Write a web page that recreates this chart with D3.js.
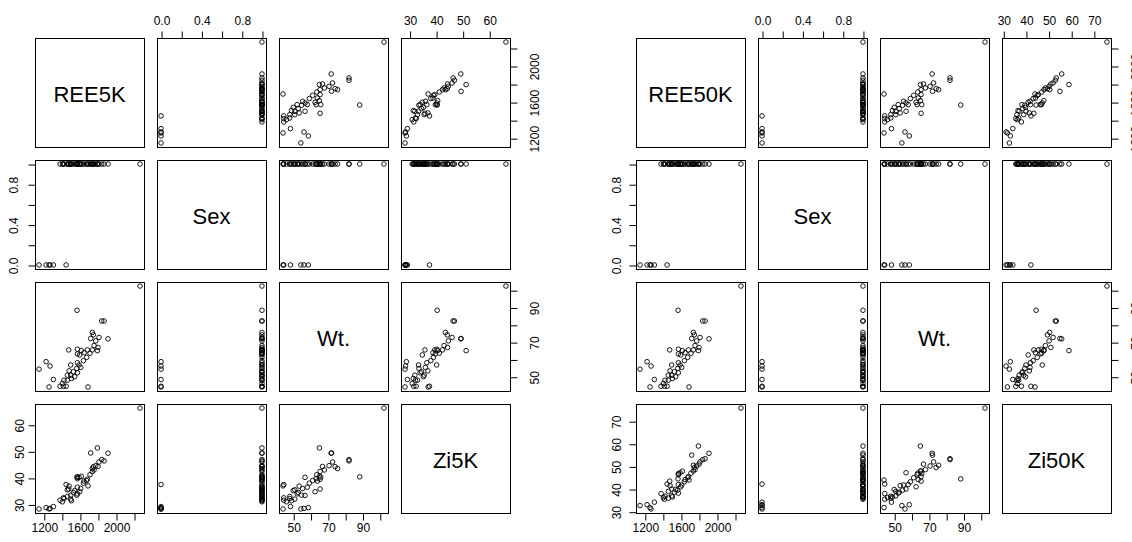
<!DOCTYPE html>
<html>
<head>
<meta charset="utf-8">
<script src="https://cdn.jsdelivr.net/npm/d3@7"></script>
<style>
  body { margin: 0; background: #fff; }
  svg { display: block; }
</style>
</head>
<body>
<svg width="1132" height="542"></svg>
<script>
// observations (one entry per subject)
var ree   = [2266,1568,1842,1868,1738,1749,1720,1812,1912,1775,1757,1801,1794,1738,1476,1572,1616,1683,1646,1572,1598,1712,1675,1639,1572,1498,1591,1609,1565,1480,1528,1498,1542,1572,1506,1461,1424,1225,1269,1147,1306,1258,1380,1417,1447,1690,1406,1461];
var sex   = [1,1,1,1,1,1,1,1,1,1,1,1,1,1,1,1,1,1,1,1,1,1,1,1,1,1,1,1,1,1,1,1,1,1,1,1,1,0,0,0,0,0,1,1,0,1,1,1];
var wt    = [102.4,88.4,82.2,82.2,75.6,74.2,72.1,72.7,71.9,70.7,68.0,66.9,65.1,65.5,65.5,65.9,65.1,65.5,63.9,63.2,62.6,63.6,61.2,59.3,58.1,56.8,56.8,55.4,54.8,53.4,52.9,50.9,50.0,52.3,49.0,48.0,48.0,58.7,56.2,54.4,48.4,44.1,44.5,44.5,44.5,44.1,46.1,50.9];
var zi5k  = [66.3,40.4,46.9,46.4,43.5,44.2,49.4,46.0,49.3,44.6,43.0,44.3,51.3,42.4,35.8,40.3,40.6,39.5,38.8,39.7,34.8,41.2,39.0,38.0,36.5,33.4,40.2,36.0,33.5,36.9,34.5,32.0,35.2,34.0,31.4,33.0,32.2,28.8,28.5,28.3,29.2,28.3,31.6,32.5,37.5,37.0,31.0,35.5];
var zi50k = [75.8,44.5,53.0,53.4,50.5,49.5,55.0,52.0,55.8,50.2,48.6,51.0,59.0,48.0,43.5,46.8,47.9,45.5,44.2,46.3,41.0,47.0,45.0,43.2,42.0,40.0,47.2,41.8,39.5,41.5,38.6,37.0,39.8,38.2,36.5,36.0,36.8,33.1,31.2,32.7,34.2,31.8,38.0,35.5,42.2,44.0,36.2,39.0];

// ticks and which of them get a label
var reeTicks = [1200,1400,1600,1800,2000,2200], reeLabels = [1200,1600,2000];
var sexTicks = [0,0.2,0.4,0.6,0.8,1], sexLabels = [0,0.4,0.8];
var wtTicks = [50,60,70,80,90,100], wtLabels = [50,70,90];
var zi5kTicks = [30,40,50,60], zi5kLabels = [30,40,50,60];
var zi50kTicks = [30,40,50,60,70], zi50kLabels = [30,40,50,60,70];

var svg = d3.select('svg');
var size = 109, step = 122;
var tops = [38, 160, 282, 404];
var font = '"Liberation Sans", Arial, sans-serif';

// R style domain: data range stretched by 4% on each side
function padded(vals) {
    var e = d3.extent(vals);
    var r = (e[1] - e[0]) * 0.04;
    return [e[0] - r, e[1] + r];
}

function drawMatrix(x0, vars) {
    var n = vars.length;
    var g = svg.append('g');

    vars.forEach((row, i) => {
        vars.forEach((col, j) => {
            var left = x0 + j * step, top = tops[i];
            var p = g.append('g').attr('transform', `translate(${left},${top})`);

            var x = d3.scaleLinear().domain(padded(col.values)).range([0, size]);
            var y = d3.scaleLinear().domain(padded(row.values)).range([size, 0]);

            if (i === j) {
                p.append('text')
                    .attr('x', size / 2).attr('y', size / 2 + 9)
                    .attr('text-anchor', 'middle')
                    .attr('font-family', font).attr('font-size', 22)
                    .text(row.name);
            } else {
                p.selectAll('circle')
                    .data(d3.range(col.values.length))
                    .enter().append('circle')
                    .attr('cx', k => x(col.values[k]))
                    .attr('cy', k => y(row.values[k]))
                    .attr('r', 2.3)
                    .attr('fill', 'none')
                    .attr('stroke', '#000')
                    .attr('stroke-width', 0.9);
            }

            p.append('rect')
                .attr('x', 0.5).attr('y', 0.5)
                .attr('width', size).attr('height', size)
                .attr('fill', 'none').attr('stroke', '#000').attr('stroke-width', 1);

            // axes alternate sides like pairs()
            if (i === 0 && j % 2 === 1) addAxis(p, 'top', x, col);
            if (i === n - 1 && j % 2 === 0) addAxis(p, 'bottom', x, col);
            if (j === 0 && i % 2 === 1) addAxis(p, 'left', y, row);
            if (j === n - 1 && i % 2 === 0) addAxis(p, 'right', y, row);
        });
    });
}

function addAxis(p, side, scale, v) {
    var fmt = v.fmt || (d => d);
    var axis = {top: d3.axisTop, bottom: d3.axisBottom, left: d3.axisLeft, right: d3.axisRight}[side](scale)
        .tickValues(v.ticks)
        .tickSizeOuter(0)
        .tickSizeInner(7)
        .tickFormat(d => v.labels.indexOf(d) >= 0 ? fmt(d) : '');

    var off = {top: 'translate(0.5,0.5)', bottom: `translate(0.5,${size + 0.5})`,
               left: 'translate(0.5,0.5)', right: `translate(${size + 0.5},0.5)`}[side];
    var a = p.append('g').attr('transform', off).call(axis);
    a.select('.domain').remove();
    a.selectAll('line').attr('stroke', '#000');
    a.selectAll('text')
        .attr('fill', '#000')
        .attr('font-family', font)
        .attr('font-size', 12)
        .attr('dy', null);

    if (side === 'top') a.selectAll('text').attr('y', -14);
    if (side === 'bottom') a.selectAll('text').attr('y', 18.5);
    if (side === 'left' || side === 'right') {
        var dx = side === 'left' ? -(v.labelGap || 16) : 28;
        a.selectAll('text')
            .attr('x', 0).attr('y', 0)
            .attr('text-anchor', 'middle')
            .attr('transform', `translate(${dx},0) rotate(-90)`);
    }
}

var f1 = d3.format('.1f');

drawMatrix(35, [
    {name: 'REE5K', values: ree, ticks: reeTicks, labels: reeLabels},
    {name: 'Sex', values: sex, ticks: sexTicks, labels: sexLabels, fmt: f1, labelGap: 18},
    {name: 'Wt.', values: wt, ticks: wtTicks, labels: wtLabels},
    {name: 'Zi5K', values: zi5k, ticks: zi5kTicks, labels: zi5kLabels, labelGap: 12}
]);

drawMatrix(636, [
    {name: 'REE50K', values: ree, ticks: reeTicks, labels: reeLabels},
    {name: 'Sex', values: sex, ticks: sexTicks, labels: sexLabels, fmt: f1, labelGap: 16},
    {name: 'Wt.', values: wt, ticks: wtTicks, labels: wtLabels},
    {name: 'Zi50K', values: zi50k, ticks: zi50kTicks, labels: zi50kLabels, labelGap: 16}
]);
</script>
</body>
</html>
